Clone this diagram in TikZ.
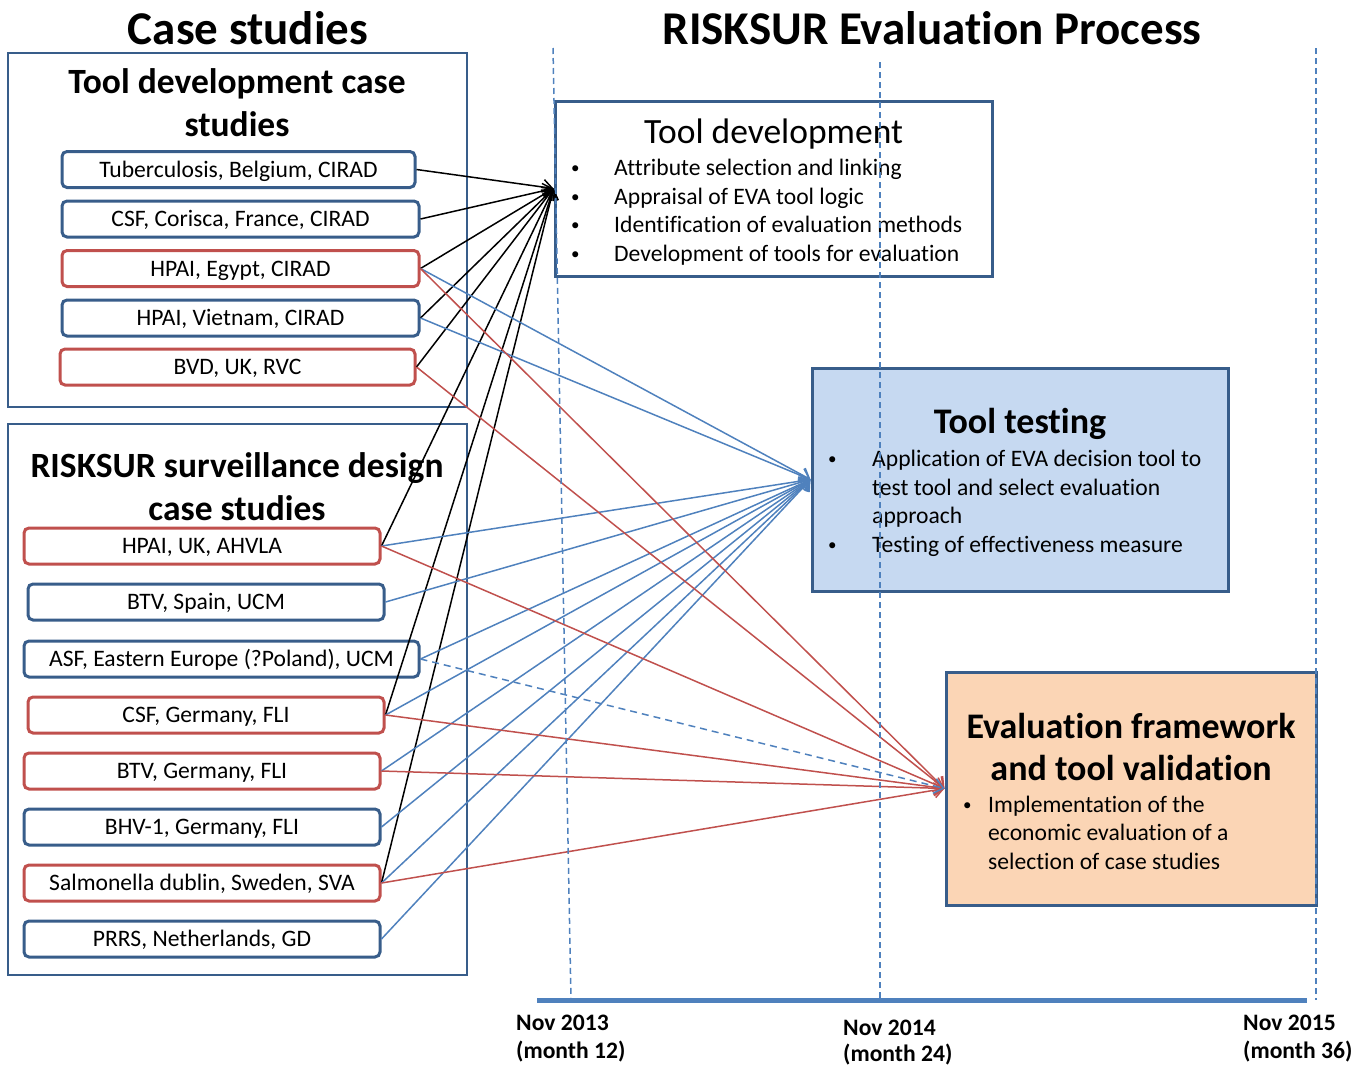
\documentclass[tikz,border=0pt]{standalone}
\usepackage{fontspec}
\setmainfont{Carlito}[Ligatures=NoCommon]
\usetikzlibrary{arrows.meta}
\definecolor{bdr}{HTML}{385D8A}
\definecolor{rbdr}{HTML}{C0504D}
\definecolor{lblue}{HTML}{4F81BD}
\definecolor{lred}{HTML}{C0504D}
\definecolor{ttfill}{HTML}{C6D9F1}
\definecolor{evfill}{HTML}{FBD5B5}
\tikzset{
  cbox/.style={line width=3pt, rounded corners=5pt, fill=white, inner sep=0pt,
    minimum height=36pt, text height=17pt, text depth=2pt, font=\fontsize{23.6}{28}\selectfont},
  bluecase/.style={cbox, draw=bdr},
  redcase/.style={cbox, draw=rbdr},
  grp/.style={draw=bdr, line width=2.5pt, inner sep=0pt},
  mainbox/.style={draw=bdr, line width=3pt, inner sep=0pt},
  bigtitle/.style={font=\fontsize{47}{52}\selectfont\bfseries},
  subtitle/.style={font=\fontsize{35.5}{43}\selectfont\bfseries, align=center},
  itemtxt/.style={font=\fontsize{23.6}{28}\selectfont, anchor=base west, inner sep=0pt},
  bul/.style={font=\fontsize{17}{20}\selectfont, anchor=base west, inner sep=0pt, yshift=2pt},
  tltxt/.style={font=\fontsize{23.6}{28}\selectfont\bfseries, anchor=base west, inner sep=0pt},
  conn/.style={line width=1.5pt, -{Straight Barb[length=9pt,width=15pt,line width=1.5pt]}},
  blk/.style={conn, black},
  blu/.style={conn, lblue},
  rd/.style={conn, lred},
  vdash/.style={lblue, line width=1.5pt, dash pattern=on 6pt off 4pt},
}
\begin{document}
\begin{tikzpicture}[x=1pt,y=-1pt]
\useasboundingbox (0,0) rectangle (1366,1066);

% titles
\node[bigtitle] (t1) at (248,28) {Case studies};
\node[bigtitle] (t2) at (932,28) {RISKSUR Evaluation Process};

% group boxes
\node[grp, minimum width=459pt, minimum height=354pt] (g1) at (237.5,230) {};
\node[grp, minimum width=459pt, minimum height=551pt] (g2) at (237.5,699.5) {};
\node[subtitle] (g1t) at (237,103) {Tool development case\\studies};
\node[subtitle] (g2t) at (237,487) {RISKSUR surveillance design\\case studies};

% case boxes
\node[bluecase, minimum width=353pt] (tb) at (238.5,169.5) {Tuberculosis, Belgium, CIRAD};
\node[bluecase, minimum width=357pt] (csfc) at (240.5,219) {CSF, Corisca, France, CIRAD};
\node[redcase, minimum width=357pt] (hpe) at (240.5,268.5) {HPAI, Egypt, CIRAD};
\node[bluecase, minimum width=357pt] (hpv) at (240.5,318) {HPAI, Vietnam, CIRAD};
\node[redcase, minimum width=355pt] (bvd) at (237.5,367) {BVD, UK, RVC};
\node[redcase, minimum width=356pt] (hpuk) at (202,546) {HPAI, UK, AHVLA};
\node[bluecase, minimum width=356pt] (btvs) at (206,602) {BTV, Spain, UCM};
\node[bluecase, minimum width=395pt] (asf) at (221.5,659) {ASF, Eastern Europe (?Poland), UCM};
\node[redcase, minimum width=356pt] (csfg) at (206,715) {CSF, Germany, FLI};
\node[redcase, minimum width=356pt] (btvg) at (202,771) {BTV, Germany, FLI};
\node[bluecase, minimum width=356pt] (bhv) at (202,827) {BHV-1, Germany, FLI};
\node[redcase, minimum width=356pt] (sal) at (202,883) {Salmonella dublin, Sweden, SVA};
\node[bluecase, minimum width=356pt] (prrs) at (202,939) {PRRS, Netherlands, GD};

% main boxes
\node[mainbox, fill=white, minimum width=437pt, minimum height=175pt] (td) at (773.5,188.5) {};
\node[mainbox, fill=ttfill, minimum width=416pt, minimum height=223pt] (tt) at (1020,479.5) {};
\node[mainbox, fill=evfill, minimum width=370pt, minimum height=233pt] (ev) at (1131,788.5) {};

\node[font=\fontsize{35.5}{40}\selectfont] (tdt) at (773.5,134) {Tool development};
\node[bul] (tdb1) at (571,175) {•}; \node[itemtxt] (tdi1) at (614,175) {Attribute selection and linking};
\node[bul] (tdb2) at (571,204) {•}; \node[itemtxt] (tdi2) at (614,204) {Appraisal of EVA tool logic};
\node[bul] (tdb3) at (571,232) {•}; \node[itemtxt] (tdi3) at (614,232) {Identification of evaluation methods};
\node[bul] (tdb4) at (571,261) {•}; \node[itemtxt] (tdi4) at (614,261) {Development of tools for evaluation};

\node[font=\fontsize{36}{40}\selectfont\bfseries] (ttt) at (1020,424) {Tool testing};
\node[bul] (ttb1) at (828,466) {•}; \node[itemtxt] (tti1) at (872,466) {Application of EVA decision tool to};
\node[itemtxt] (tti2) at (872,495) {test tool and select evaluation};
\node[itemtxt] (tti3) at (872,523) {approach};
\node[bul] (ttb2) at (828,552) {•}; \node[itemtxt] (tti4) at (872,552) {Testing of effectiveness measure};

\node[font=\fontsize{36}{42}\selectfont\bfseries, align=center] (evt) at (1131,747) {Evaluation framework\\and tool validation};
\node[bul] (evb1) at (963,812) {•}; \node[itemtxt] (evi1) at (988,812) {Implementation of the};
\node[itemtxt] (evi2) at (988,840) {economic evaluation of a};
\node[itemtxt] (evi3) at (988,869) {selection of case studies};

% connectors to Tool development
\foreach \s in {tb,csfc,hpe,hpv,bvd,hpuk,csfg,sal}
  \draw[blk] (\s.east) -- (td.west);
% connectors to Tool testing
\foreach \s in {hpe,hpv,hpuk,btvs,asf,csfg,btvg,bhv,sal,prrs}
  \draw[blu] (\s.east) -- (tt.west);
% connectors to Evaluation
\foreach \s in {hpe,bvd,hpuk,csfg,btvg,sal}
  \draw[rd] (\s.east) -- (ev.west);
\draw[conn, lblue, dash pattern=on 7pt off 5pt] (asf.east) -- (ev.west);

% time markers
\coordinate (d1a) at (553,48); \coordinate (d1b) at (571,1000);
\coordinate (d2a) at (880,62); \coordinate (d2b) at (880,1000);
\coordinate (d3a) at (1316,48); \coordinate (d3b) at (1316,1000);
\draw[vdash] (d1a) -- (d1b);
\draw[vdash] (d2a) -- (d2b);
\draw[vdash] (d3a) -- (d3b);
\coordinate (tl1) at (537,1000); \coordinate (tl2) at (1307,1000);
\draw[lblue, line width=5pt] (tl1) -- (tl2);

\node[tltxt] (m1a) at (516,1030) {Nov 2013};
\node[tltxt] (m1b) at (516,1058) {(month 12)};
\node[tltxt] (m2a) at (843,1035) {Nov 2014};
\node[tltxt] (m2b) at (843,1061) {(month 24)};
\node[tltxt] (m3a) at (1243,1030) {Nov 2015};
\node[tltxt] (m3b) at (1243,1058) {(month 36)};
\end{tikzpicture}
\end{document}
